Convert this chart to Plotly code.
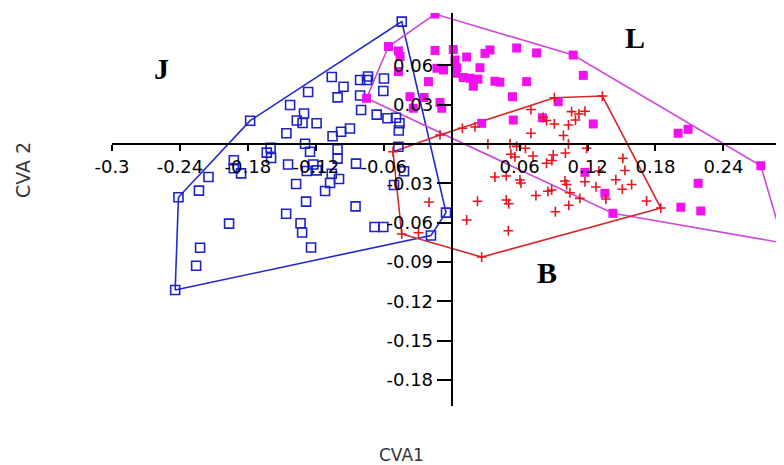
import plotly.graph_objects as go

# ---- data ----
blue_x = [-0.0441, -0.178, -0.2413, -0.2442, -0.005, -0.0183, -0.1059, -0.1268, -0.0955, -0.1008,
          -0.0809, -0.0748, -0.0739, -0.0598, -0.0604, -0.0809, -0.1427, -0.1304, -0.1368, -0.1317,
          -0.1193, -0.080, -0.0662, -0.0567, -0.0492, -0.0461, -0.0467, -0.0898, -0.0977, -0.1052,
          -0.146, -0.1295, -0.1251, -0.1599, -0.1633, -0.1595, -0.1008, -0.1008, -0.1924, -0.1924,
          -0.186, -0.2148, -0.2232, -0.1445, -0.1222, -0.1192, -0.128, -0.1059, -0.0995, -0.1074,
          -0.1374, -0.1118, -0.0845, -0.0471, -0.0421, -0.0509, -0.1286, -0.0849, -0.1462, -0.1966,
          -0.1335, -0.1321, -0.2222, -0.2257, -0.1242, -0.0681, -0.0604]
blue_y = [0.0934, 0.0178, -0.0407, -0.1115, -0.0524, -0.0698, 0.0511, 0.0397, 0.0437, 0.0356,
          0.0489, 0.0489, 0.0515, 0.050, 0.0405, 0.037, 0.0298, 0.0233, 0.0179, 0.016,
          0.0158, 0.026, 0.0224, 0.0196, 0.020, 0.0158, 0.0103, 0.0118, 0.0093, 0.0059,
          0.0082, 0.0002, -0.0059, -0.0029, -0.0066, -0.0107, -0.004, -0.0112, -0.0124, -0.0185,
          -0.0224, -0.0252, -0.0356, -0.0156, -0.0156, -0.0201, -0.0206, -0.0227, -0.0267, -0.0298,
          -0.0305, -0.0359, -0.015, -0.0021, -0.0208, -0.0313, -0.044, -0.0476, -0.0532, -0.0608,
          -0.0605, -0.0676, -0.0792, -0.0929, -0.079, -0.0634, -0.0634]

mag_x = [-0.0147, -0.0558, -0.047, -0.0456, -0.0147, 0.0014, 0.0029, 0.0132, 0.0294, 0.0338,
         0.0574, 0.075, 0.1073, 0.1162, -0.013, -0.0072, 0.0044, 0.0034, 0.025, 0.0102,
         0.0162, 0.0232, 0.0382, 0.0426, 0.0662, 0.0191, -0.0205, -0.047, -0.0752, -0.0368,
         -0.0244, -0.0339, -0.0103, -0.0088, 0.0537, 0.0941, 0.0265, 0.0544, 0.0801, 0.125,
         0.200, 0.2088, 0.273, 0.1177, 0.2177, 0.1353, 0.1424, 0.2024, 0.220, 0.293]
mag_y = [0.0992, 0.0744, 0.071, 0.0668, 0.0714, 0.0721, 0.0641, 0.0664, 0.0692, 0.0718,
         0.0733, 0.0695, 0.0679, 0.0524, 0.0578, 0.0565, 0.0582, 0.054, 0.0582, 0.0508,
         0.0502, 0.0495, 0.0479, 0.0472, 0.0476, 0.0441, 0.0476, 0.0553, 0.0349, 0.0361,
         0.0355, 0.0273, 0.0317, 0.0273, 0.0361, 0.0323, 0.0158, 0.0183, 0.020, 0.0153,
         0.0082, 0.0112, -0.0166, -0.0216, -0.030, -0.0376, -0.0529, -0.0483, -0.0511, -0.0756]

red_x = [-0.0518, -0.0441, 0.0265, 0.1847, 0.1331, 0.0907, -0.0103, -0.0293, -0.020, 0.0095,
         0.0206, 0.070, 0.0808, 0.0838, 0.0907, 0.1031, 0.1059, 0.1124, 0.1177, 0.1093,
         0.070, 0.0987, 0.032, 0.0515, 0.0574, 0.0651, 0.1031, 0.1192, 0.0523, 0.0559,
         0.0718, 0.0897, 0.0885, 0.0838, 0.1004, 0.1512, 0.153, 0.130, 0.0382, 0.0482,
         0.0603, 0.0612, 0.100, 0.1015, 0.1177, 0.1274, 0.145, 0.1589, 0.1507, 0.0744,
         0.085, 0.0883, 0.1044, 0.1132, 0.1362, 0.1721, 0.0228, 0.0482, 0.0504, 0.0916,
         0.1034, 0.0132, 0.050]
red_y = [-0.0059, -0.0687, -0.0863, -0.0489, 0.0366, 0.0353, 0.0069, -0.0677, -0.0443, 0.012,
         0.013, 0.0263, 0.0204, 0.0179, 0.0153, 0.0145, 0.0247, 0.0229, 0.025, 0.0183,
         0.0082, 0.0065, 0.0, 0.0002, -0.0018, -0.0033, 0.0, -0.0033, -0.0078, -0.0099,
         -0.0092, -0.0084, -0.0126, -0.0147, -0.0069, -0.0109, -0.0202, -0.0206, -0.0252, -0.0244,
         -0.0275, -0.0298, -0.0282, -0.0309, -0.0288, -0.0328, -0.0273, -0.0309, -0.0345, -0.0393,
         -0.0361, -0.0351, -0.0372, -0.0415, -0.042, -0.0435, -0.0437, -0.0427, -0.0456, -0.0517,
         -0.0468, -0.058, -0.0662]

x_tickvals = [-0.3, -0.24, -0.18, -0.12, -0.06, 0.06, 0.12, 0.18, 0.24]
x_ticktext = ["-0.3", "-0.24", "-0.18", "-0.12", "-0.06", "0.06", "0.12", "0.18", "0.24"]
y_tickvals = [0.06, 0.03, -0.03, -0.06, -0.09, -0.12, -0.15, -0.18]
y_ticktext = ["0.06", "0.03", "-0.03", "-0.06", "-0.09", "-0.12", "-0.15", "-0.18"]

group_labels = ["J", "L", "B"]
label_x = [-0.256, 0.162, 0.084]
label_y = [0.058, 0.081, -0.098]

X_RANGE = [-0.3, 0.2935]
Y_RANGE = [-0.2, 0.1]


def convex_hull(xs, ys):
    pts = sorted(set(zip(xs, ys)))
    if len(pts) <= 2:
        return pts

    def cross(o, a, b):
        return (a[0] - o[0]) * (b[1] - o[1]) - (a[1] - o[1]) * (b[0] - o[0])

    lower = []
    for p in pts:
        while len(lower) >= 2 and cross(lower[-2], lower[-1], p) <= 0:
            lower.pop()
        lower.append(p)
    upper = []
    for p in reversed(pts):
        while len(upper) >= 2 and cross(upper[-2], upper[-1], p) <= 0:
            upper.pop()
        upper.append(p)
    hull = lower[:-1] + upper[:-1]
    return hull + [hull[0]]


fig = go.Figure()

groups = [
    (blue_x, blue_y, "#1c22c8", "#2028d0", "square-open", 9, 1.6),
    (mag_x, mag_y, "#f010f0", "#d048d8", "square", 9, 0),
    (red_x, red_y, "#e8141e", "#d42828", "cross-thin", 7, 1.6),
]

for xs, ys, mcol, lcol, sym, size, lw in groups:
    h = convex_hull(xs, ys)
    fig.add_trace(go.Scatter(
        x=[p[0] for p in h], y=[p[1] for p in h], mode="lines",
        line=dict(color=lcol, width=1.6), hoverinfo="skip", showlegend=False))

for xs, ys, mcol, lcol, sym, size, lw in groups:
    marker = dict(symbol=sym, size=size, color=mcol)
    if lw:
        marker["line"] = dict(color=mcol, width=lw)
    fig.add_trace(go.Scatter(x=xs, y=ys, mode="markers", marker=marker, showlegend=False))

for t, lx, ly in zip(group_labels, label_x, label_y):
    fig.add_annotation(x=lx, y=ly, xref="x", yref="y", text="<b>" + t + "</b>",
                       showarrow=False, xanchor="center", yanchor="middle",
                       font=dict(family="Liberation Serif", size=30, color="black"))

# the page body has an 8px margin, so the figure is sized to fit the 784x465 window
W, H = 776, 457
L, R, T, B = 104, 0, 5, 59
pw, ph = W - L - R, H - T - B

fig.add_annotation(x=(393 - L) / pw, y=(H - B - 447) / ph, xref="paper", yref="paper",
                   text="CVA1", showarrow=False, xanchor="center", yanchor="middle",
                   font=dict(family="DejaVu Sans", size=17, color="#333333"))
fig.add_annotation(x=(15 - L) / pw, y=(H - B - 162) / ph, xref="paper", yref="paper",
                   text="CVA 2", showarrow=False, textangle=-90,
                   xanchor="center", yanchor="middle",
                   font=dict(family="DejaVu Sans", size=19, color="#333333"))

x_pos = (0 - Y_RANGE[0]) / (Y_RANGE[1] - Y_RANGE[0])
y_pos = (0 - X_RANGE[0]) / (X_RANGE[1] - X_RANGE[0])

tick_font = dict(family="DejaVu Sans", size=18, color="black")

fig.update_layout(
    width=W, height=H,
    margin=dict(l=L, r=R, t=T, b=B, pad=0),
    paper_bgcolor="white", plot_bgcolor="white",
    font=dict(family="DejaVu Sans", size=18, color="black"),
    xaxis=dict(range=X_RANGE, domain=[0, 1], anchor="free", position=x_pos,
               showgrid=False, zeroline=False, showline=True, linecolor="black", linewidth=2,
               ticks="outside", ticklen=6, tickwidth=1.5, tickcolor="black",
               tickvals=x_tickvals, ticktext=x_ticktext, tickfont=tick_font),
    yaxis=dict(range=Y_RANGE, domain=[0, 1], anchor="free", position=y_pos,
               showgrid=False, zeroline=False, showline=True, linecolor="black", linewidth=2,
               ticks="outside", ticklen=14, tickwidth=1.5, tickcolor="black",
               tickvals=y_tickvals, ticktext=y_ticktext, tickfont=tick_font),
    showlegend=False,
)

fig.write_html("out.html")
